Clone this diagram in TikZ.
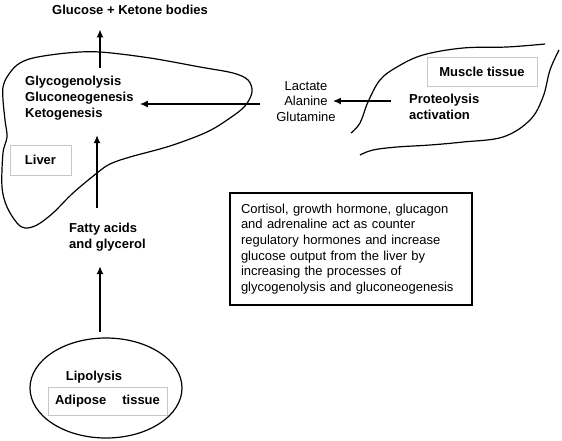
\documentclass[tikz,border=0pt]{standalone}
\usepackage{fontspec}
\setmainfont{Liberation Sans}
\usetikzlibrary{arrows.meta}
\usetikzlibrary{shapes.geometric}
\tikzset{
	edge/.style={-{Latex[length=8pt,width=7pt]}, line width=2.3pt},
	lbl/.style={inner sep=0pt, font=\fontsize{13}{16}\selectfont\bfseries},
	txt/.style={inner sep=0pt, font=\fontsize{13}{15.4}\selectfont},
	tissue/.style={draw=black!22, line width=0.9pt, font=\fontsize{13}{16}\selectfont\bfseries},
	outline/.style={line width=1.2pt}
}

\begin{document}
\begin{tikzpicture}[x=1pt,y=-1pt]
		\useasboundingbox (0,0) rectangle (562,440);
		% liver
		\draw[outline] plot[smooth cycle, tension=0.55] coordinates {(7,77) (17,65) (33,58) (67,53) (100,52) (150,58) (200,67) (233,73) (248,80) (252,92) (245,106) (230,118) (207,132) (170,146) (130,157) (110,164) (97,173) (73,193) (53,213) (37,225) (25,228) (17,223) (7,207) (2,187) (3,153) (7,137) (5,120) (3,100) (3,87)};
		% muscle
		\draw[outline] plot[smooth, tension=0.6] coordinates {(351,133) (360,123) (368,102) (380,80) (397,67) (423,55) (463,48) (507,47) (545,44)};
		\draw[outline] plot[smooth, tension=0.6] coordinates {(559,50) (550,70) (543,97) (530,120) (503,137) (463,142) (430,145) (397,147) (373,150) (360,155)};
		
		\node[lbl, anchor=base] (glu) at (130,14) {Glucose + Ketone bodies};
		\node[lbl, anchor=north west, align=left] (proc) at (25,75.5) {Glycogenolysis\\Gluconeogenesis\\Ketogenesis};
		\node[tissue, minimum width=61pt, minimum height=30pt] (liv) at (40.5,160) {Liver};
		\node[lbl, anchor=north west, align=left] (fat) at (69,222.5) {Fatty acids\\and glycerol};
		\node[draw, ellipse, outline, minimum width=152pt, minimum height=100pt] (adip) at (106,388) {};
		\node[lbl, anchor=base] (lipo) at (94,380) {Lipolysis};
		\node[tissue, minimum width=119pt, minimum height=28pt] (adi) at (107.5,401) {Adipose\hspace{16pt}tissue};
		\node[txt, anchor=north, align=center] (lac) at (306,81.2) {Lactate\\Alanine\\Glutamine};
		\node[lbl, anchor=north west, align=left] (prot) at (409,93.5) {Proteolysis\\activation};
		\node[tissue, minimum width=110pt, minimum height=29pt] (mus) at (482,71.5) {Muscle tissue};
		\node[draw, line width=1.2pt, minimum width=242pt, minimum height=112pt, text width=220pt, inner xsep=11pt, align=left, font=\fontsize{13}{15.6}\selectfont] (note) at (351,249) {Cortisol, growth hormone, glucagon\\and adrenaline act as counter\\regulatory hormones and increase\\glucose output from the liver by\\increasing the processes of\\glycogenolysis and gluconeogenesis};
		
		\coordinate (gx) at (100,0);
		\coordinate (fx) at (97,0);
		\coordinate (hy) at (0,104);
		\coordinate (sy) at (0,101);
		
		\draw[edge, shorten <=7.5pt, shorten >=15pt] (proc.north -| gx) -- (glu.south -| gx);
		\draw[edge, shorten <=14.5pt, shorten >=15pt] (fat.north -| fx) -- (proc.south -| fx);
		\draw[edge, shorten <=5pt, shorten >=15pt] (adip.north -| gx) -- (fat.south -| gx);
		\draw[edge, line width=1.8pt, shorten <=16pt, shorten >=6pt] (lac.west |- hy) -- (proc.east |- hy);
		\draw[edge, line width=1.6pt, shorten <=18pt, shorten >=-3pt] (prot.west |- sy) -- (lac.east |- sy);
\end{tikzpicture}
\end{document}
